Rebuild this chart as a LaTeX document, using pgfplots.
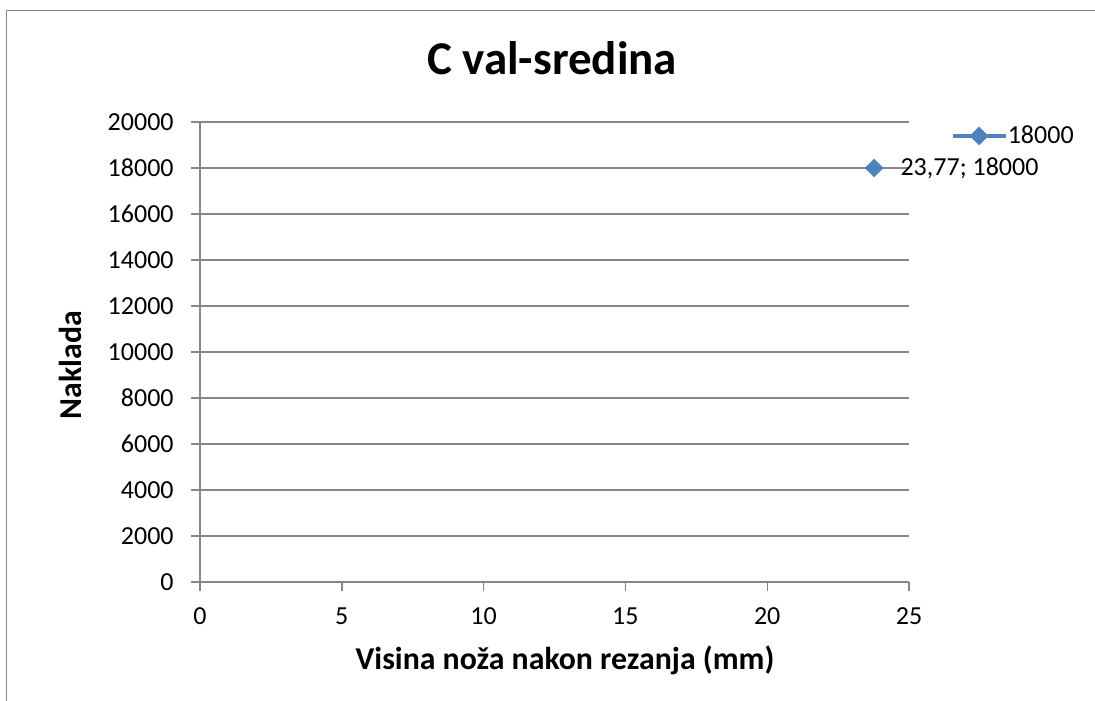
\documentclass[border=0pt]{standalone}
\usepackage{fontspec}
\setmainfont{Carlito}
\usepackage{pgfplots}
\pgfplotsset{compat=1.18}
\definecolor{serblue}{HTML}{4F81BD}
\definecolor{gridgray}{HTML}{868686}
\definecolor{framegray}{HTML}{878787}
\begin{document}
\begin{tikzpicture}
\useasboundingbox (0,0) rectangle (547.5bp,350.5bp);
\draw[framegray, line width=0.8bp] (3.25bp,-2bp) -- (3.25bp,345.25bp) -- (550bp,345.25bp);
\begin{axis}[
  scale only axis,
  width=354.5bp, height=230bp,
  at={(100bp,59.5bp)}, anchor=south west,
  xmin=0, xmax=25, ymin=0, ymax=20000,
  xtick={0,5,10,15,20,25},
  ytick={0,2000,4000,6000,8000,10000,12000,14000,16000,18000,20000},
  scaled y ticks=false, scaled x ticks=false,
  axis x line=bottom, axis y line=left,
  axis line style={gridgray, line width=0.7bp, -},
  tick align=outside,
  major tick length=4.5bp,
  tick style={gridgray, line width=0.7bp},
  ymajorgrids,
  major grid style={gridgray, line width=0.6bp},
  /pgf/number format/assume math mode=true,
  /pgf/number format/1000 sep={},
  ticklabel style={font=\fontsize{13bp}{15bp}\selectfont, inner sep=0pt},
  yticklabel style={anchor=east, xshift=-8.5bp},
  xticklabel style={anchor=north, yshift=-8bp},
  title={\bfseries C val-sredina},
  title style={font=\fontsize{23.5bp}{28bp}\selectfont, at={(axis description cs:0.4965,1.1130)}, anchor=center, inner sep=0pt},
  xlabel={\bfseries Visina noža nakon rezanja (mm)},
  xlabel style={font=\fontsize{15.9bp}{19bp}\selectfont, at={(axis description cs:0.5148,-0.1913)}, anchor=base, inner sep=0pt},
  ylabel={\bfseries Naklada},
  ylabel style={font=\fontsize{15.9bp}{19bp}\selectfont, at={(axis description cs:-0.1834,0.4717)}, anchor=center, inner sep=0pt},
  legend style={draw=none, fill=none, inner sep=0pt, at={(axis description cs:1.0578,0.9696)}, anchor=west,
    font=\fontsize{13bp}{15bp}\selectfont, nodes={inner sep=0pt},
    /tikz/every even column/.append style={column sep=3.5bp}},
  legend image code/.code={\draw[#1, line width=2.2bp, mark repeat=2, mark phase=2] plot coordinates {(0bp,0bp) (13.25bp,0bp) (26.5bp,0bp)};},
  clip=false,
]
\addplot[serblue, mark=square*, mark size=3.1bp, mark options={rotate=45, line width=0.4bp, fill=serblue, draw=serblue},
  nodes near coords={23,77; 18000},
  every node near coord/.append style={anchor=west, xshift=13bp, inner sep=0pt, text=black, font=\fontsize{13bp}{15bp}\selectfont}]
  coordinates {(23.77,18000)};
\addlegendentry{18000}
\end{axis}
\end{tikzpicture}
\end{document}
